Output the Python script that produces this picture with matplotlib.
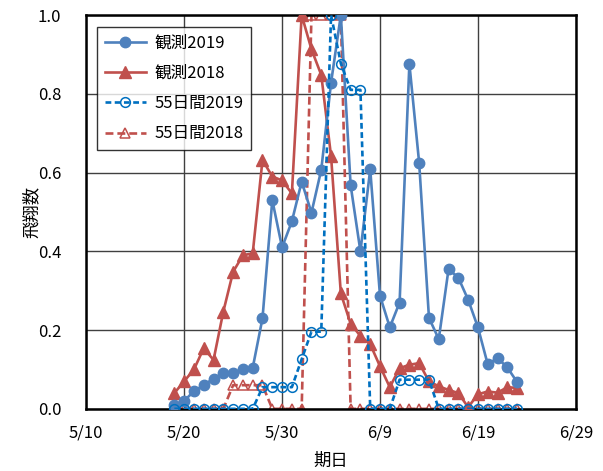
import matplotlib
matplotlib.use("Agg")
import matplotlib.pyplot as plt
import numpy as np
import pandas as pd

plt.rcParams['font.family'] = ['Noto Sans CJK JP', 'DejaVu Sans']

# days from 5/19 to 6/23
dates = pd.date_range("2019-05-19", "2019-06-23", freq="D")

obs_2019 = [0.01, 0.02, 0.045, 0.06, 0.077, 0.09, 0.09, 0.1, 0.104, 0.23,
            0.53, 0.41, 0.476, 0.577, 0.498, 0.607, 0.828, 1.0, 0.568, 0.40,
            0.608, 0.287, 0.207, 0.27, 0.876, 0.624, 0.231, 0.177, 0.355, 0.333,
            0.277, 0.207, 0.113, 0.129, 0.105, 0.068]
obs_2018 = [0.04, 0.07, 0.10, 0.154, 0.124, 0.247, 0.348, 0.39, 0.395, 0.632,
            0.59, 0.58, 0.547, 1.0, 0.913, 0.848, 0.642, 0.293, 0.216, 0.185,
            0.164, 0.108, 0.055, 0.103, 0.112, 0.116, 0.07, 0.057, 0.048, 0.04,
            0.004, 0.037, 0.044, 0.041, 0.055, 0.053]
d55_2019 = [0, 0, 0, 0, 0, 0, 0, 0, 0, 0.055,
            0.055, 0.055, 0.055, 0.126, 0.196, 0.196, 1.0, 0.877, 0.81, 0.81,
            0, 0, 0, 0.074, 0.074, 0.074, 0.074, 0, 0, 0,
            0, 0, 0, 0, 0, 0]
d55_2018 = [0, 0, 0, 0, 0, 0, 0.06, 0.06, 0.06, 0.06,
            0, 0, 0, 0, 1.0, 1.0, 1.0, 1.0, 0, 0,
            0, 0, 0, 0, 0, 0, 0, 0, 0, 0,
            0, 0, 0, 0, 0, 0]

tick_dates = pd.to_datetime(["2019-05-10", "2019-05-20", "2019-05-30",
                             "2019-06-09", "2019-06-19", "2019-06-29"])
tick_labels = ["5/10", "5/20", "5/30", "6/9", "6/19", "6/29"]
y_ticks = [0.0, 0.2, 0.4, 0.6, 0.8, 1.0]

fig = plt.figure(figsize=(6.03, 4.71), dpi=100)
ax = fig.add_axes([0.143, 0.132, 0.812, 0.836])

blue = "#4F81BD"
red = "#C0504D"
dblue = "#0070C0"

ax.plot(dates, obs_2019, color=blue, lw=1.9, marker="o", ms=7.5,
        label="観測2019", zorder=4)
ax.plot(dates, obs_2018, color=red, lw=1.9, marker="^", ms=8,
        label="観測2018", zorder=3)
ax.plot(dates, d55_2019, color=dblue, lw=1.9, ls=(0, (2.2, 1.3)), marker="o",
        ms=7, mfc="none", mec=dblue, mew=1.1, label="55日間2019", zorder=5)
ax.plot(dates, d55_2018, color=red, lw=1.9, ls=(0, (3, 1.5)), marker="^",
        ms=7, mfc="none", mec=red, mew=1.1, label="55日間2018", zorder=2)

ax.set_xlim(tick_dates[0], tick_dates[-1])
ax.set_xticks(tick_dates)
ax.set_xticklabels(tick_labels)
ax.set_ylim(0, 1.0)
ax.set_yticks(y_ticks)
ax.set_yticklabels([f"{v:.1f}" for v in y_ticks])

ax.grid(True, color="#404040", lw=1.0, zorder=0)
ax.set_axisbelow(True)
for s in ax.spines.values():
    s.set_color("black")
    s.set_linewidth(1.8)
ax.tick_params(axis="both", length=0, labelsize=12, colors="black")
ax.tick_params(axis="x", pad=11)
ax.tick_params(axis="y", pad=18)

ax.set_xlabel("期日", fontsize=12.5, labelpad=8)
ax.set_ylabel("飛翔数", fontsize=12.5, labelpad=-2)

leg = ax.legend(loc="upper left", bbox_to_anchor=(0.022, 0.97), fontsize=12,
                frameon=True, fancybox=False, edgecolor="black",
                handlelength=2.5, handletextpad=0.5, borderpad=0.45,
                labelspacing=0.8, borderaxespad=0)
leg.get_frame().set_linewidth(1.0)
leg.set_zorder(10)

fig.savefig("out.png", dpi=100)
